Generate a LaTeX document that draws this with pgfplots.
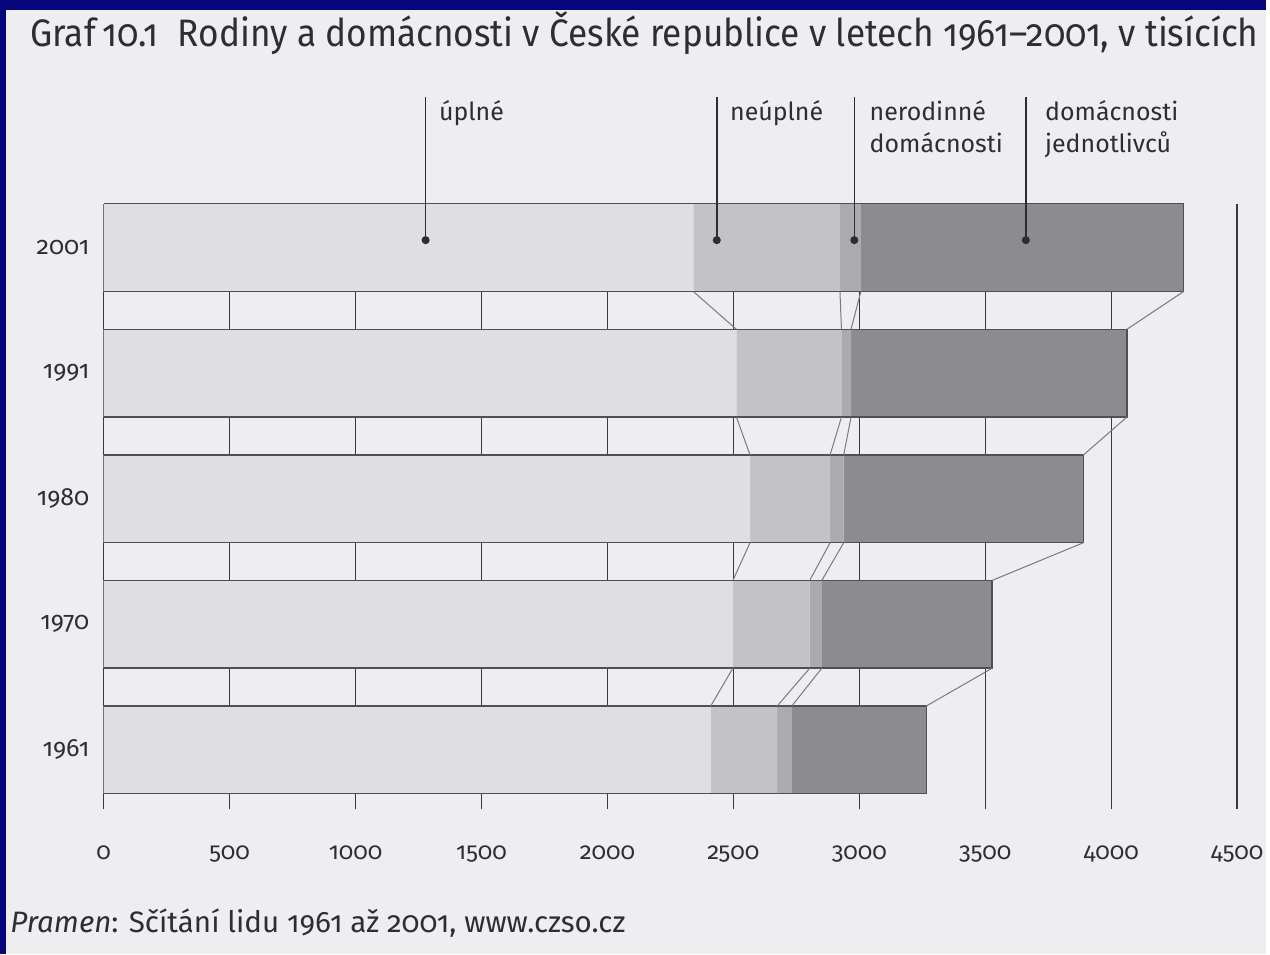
\documentclass[border=0pt]{standalone}
\usepackage{pgfplots}
\pgfplotsset{compat=1.18}
\usepackage{pgfplotstable}
\usepackage{fontspec}
\setmainfont[Numbers=OldStyle]{Fira Sans}
\newfontfamily\ttlfont[Numbers=OldStyle, FakeStretch=0.92]{Fira Sans}
\definecolor{framec}{HTML}{06067A}
\definecolor{paper}{HTML}{EEEEF0}
\definecolor{cA}{HTML}{DFDFE1}
\definecolor{cB}{HTML}{C3C3C5}
\definecolor{cC}{HTML}{ABABAD}
\definecolor{cD}{HTML}{8C8C8E}
\definecolor{gridc}{HTML}{3A3A3C}
\definecolor{edgec}{HTML}{505052}
\definecolor{conn}{HTML}{7A7A7C}
\definecolor{txt}{HTML}{2E2E30}

\pgfplotstableread{
pos year full incomplete nonfamily single
0 1961 2410 264 58 534
1 1970 2498 305 48 676
2 1980 2566 318 54 952
3 1991 2512 417 38 1095
4 2001 2341 582 83 1281
}\data

\begin{document}
\begin{tikzpicture}[x=0.5pt,y=0.5pt]
\fill[framec] (0,0) rectangle (1270,957);
\fill[paper] (6,0) rectangle (1270,947);
\begin{axis}[
  at={(52pt,72.5pt)}, anchor=south west,
  scale only axis, width=568.5pt, height=303.5pt,
  xmin=0, xmax=4500, ymin=-0.475, ymax=4.345,
  xbar stacked, bar width=44pt,
  axis line style={draw=none},
  xtick={0,500,...,4500},
  xticklabels={0,500,1000,1500,2000,2500,3000,3500,4000,4500},
  ytick={0,1,2,3,4}, yticklabels={1961,1970,1980,1991,2001},
  major tick length=0pt,
  xmajorgrids, major grid style={gridc, line width=0.7pt},
  xticklabel style={font=\fontsize{12}{14}\selectfont, text=txt, yshift=-14.5pt},
  yticklabel style={font=\fontsize{12.5}{14}\selectfont, text=txt, inner sep=0pt, xshift=-7pt},
  clip=false,
]
\addplot[fill=cA, draw=none] table[x=full, y=pos]{\data};
\addplot[fill=cB, draw=none] table[x=incomplete, y=pos]{\data};
\addplot[fill=cC, draw=none] table[x=nonfamily, y=pos]{\data};
\addplot[fill=cD, draw=none] table[x=single, y=pos]{\data};
\end{axis}
\begin{axis}[
  at={(52pt,72.5pt)}, anchor=south west,
  scale only axis, width=568.5pt, height=303.5pt,
  xmin=0, xmax=4500, ymin=-0.475, ymax=4.345,
  hide axis, clip=false,
]
% bar outlines
\addplot[edgec, line width=0.7pt] coordinates {(0,-0.3495) (3266,-0.3495) (3266,0.3495) (0,0.3495)};
\addplot[edgec, line width=0.7pt] coordinates {(0,0.6505) (3527,0.6505) (3527,1.3495) (0,1.3495)};
\addplot[edgec, line width=0.7pt] coordinates {(0,1.6505) (3890,1.6505) (3890,2.3495) (0,2.3495)};
\addplot[edgec, line width=0.7pt] coordinates {(0,2.6505) (4062,2.6505) (4062,3.3495) (0,3.3495)};
\addplot[edgec, line width=0.7pt] coordinates {(0,3.6505) (4287,3.6505) (4287,4.3495) (0,4.3495)};
% connectors 2001 -> 1991
\addplot[conn, line width=0.5pt] coordinates {(2341,3.6505) (2512,3.3495)};
\addplot[conn, line width=0.5pt] coordinates {(2923,3.6505) (2929,3.3495)};
\addplot[conn, line width=0.5pt] coordinates {(3006,3.6505) (2967,3.3495)};
\addplot[conn, line width=0.5pt] coordinates {(4287,3.6505) (4062,3.3495)};
% 1991 -> 1980
\addplot[conn, line width=0.5pt] coordinates {(2512,2.6505) (2566,2.3495)};
\addplot[conn, line width=0.5pt] coordinates {(2929,2.6505) (2884,2.3495)};
\addplot[conn, line width=0.5pt] coordinates {(2967,2.6505) (2938,2.3495)};
\addplot[conn, line width=0.5pt] coordinates {(4062,2.6505) (3890,2.3495)};
% 1980 -> 1970
\addplot[conn, line width=0.5pt] coordinates {(2566,1.6505) (2498,1.3495)};
\addplot[conn, line width=0.5pt] coordinates {(2884,1.6505) (2803,1.3495)};
\addplot[conn, line width=0.5pt] coordinates {(2938,1.6505) (2851,1.3495)};
\addplot[conn, line width=0.5pt] coordinates {(3890,1.6505) (3527,1.3495)};
% 1970 -> 1961
\addplot[conn, line width=0.5pt] coordinates {(2498,0.6505) (2410,0.3495)};
\addplot[conn, line width=0.5pt] coordinates {(2803,0.6505) (2674,0.3495)};
\addplot[conn, line width=0.5pt] coordinates {(2851,0.6505) (2732,0.3495)};
\addplot[conn, line width=0.5pt] coordinates {(3527,0.6505) (3266,0.3495)};
% leader lines
\addplot[txt, line width=0.8pt, mark=*, mark size=1.6pt, mark indices={2}, mark options={fill=txt}] coordinates {(1278,5.2) (1278,4.06)};
\addplot[txt, line width=0.8pt, mark=*, mark size=1.6pt, mark indices={2}, mark options={fill=txt}] coordinates {(2434,5.2) (2434,4.06)};
\addplot[txt, line width=0.8pt, mark=*, mark size=1.6pt, mark indices={2}, mark options={fill=txt}] coordinates {(2980,5.2) (2980,4.06)};
\addplot[txt, line width=0.8pt, mark=*, mark size=1.6pt, mark indices={2}, mark options={fill=txt}] coordinates {(3661,5.2) (3661,4.06)};
\end{axis}
% labels
\begin{scope}[every node/.style={anchor=base west, inner sep=0pt, text=txt, font=\fontsize{12.5}{14}\selectfont}]
\node at (440,836) {úplné};
\node at (732,836) {neúplné};
\node at (872,836) {nerodinné};
\node at (872,804) {domácnosti};
\node at (1048,836) {domácnosti};
\node at (1048,804) {jednotlivců};
\end{scope}
\node[anchor=base west, inner sep=0pt, text=txt] at (30,910)
  {\resizebox{616pt}{!}{\fontsize{18}{20}\ttlfont Graf\,10.1\enspace Rodiny a domácnosti v České republice v letech 1961–2001, v tisících}};
\node[anchor=base west, inner sep=0pt, text=txt] at (10,22)
  {\resizebox{308.5pt}{!}{\fontsize{13}{15}\selectfont \textit{Pramen}: Sčítání lidu 1961 až 2001, www.czso.cz}};
\end{tikzpicture}
\end{document}
